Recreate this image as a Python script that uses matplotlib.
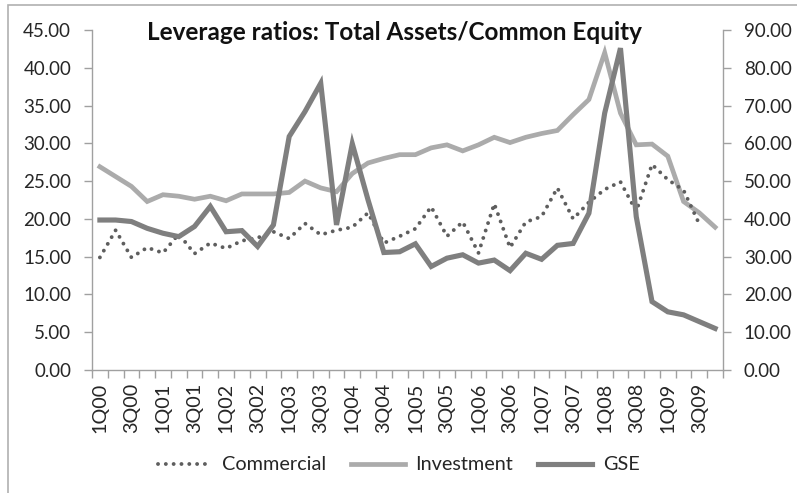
import numpy as np
import matplotlib
matplotlib.use("Agg")
import matplotlib.pyplot as plt
from matplotlib.patches import Rectangle

plt.rcParams['font.family'] = ['Lato', 'DejaVu Sans']

years = ["00", "01", "02", "03", "04", "05", "06", "07", "08", "09"]
quarters = [f"{q}Q{y}" for y in years for q in (1, 2, 3, 4)]

commercial = [14.9, 18.5, 14.9, 16.2, 15.5, 18.0, 15.4, 16.8, 16.1, 17.1,
              17.5, 18.3, 17.4, 19.4, 17.9, 18.5, 18.9, 20.8, 16.8, 17.7,
              18.7, 21.6, 17.7, 19.6, 15.5, 22.0, 16.2, 19.6, 20.3, 24.1,
              20.0, 22.2, 23.9, 24.9, 21.0, 27.2, 25.2, 23.8, 19.3, np.nan]
investment = [26.9, 25.6, 24.3, 22.3, 23.2, 23.0, 22.6, 23.0, 22.4, 23.3,
              23.3, 23.3, 23.5, 25.0, 24.1, 23.6, 26.0, 27.4, 28.0, 28.5,
              28.5, 29.4, 29.8, 29.0, 29.8, 30.8, 30.1, 30.8, 31.3, 31.7,
              33.8, 35.8, 42.0, 34.0, 29.8, 29.9, 28.3, 22.3, 20.8, 18.9]
gse = [39.7, 39.7, 39.3, 37.5, 36.2, 35.3, 38.0, 43.3, 36.6, 36.9,
       32.7, 38.4, 61.8, 68.4, 75.9, 38.4, 59.9, 45.0, 31.1, 31.3,
       33.4, 27.4, 29.6, 30.5, 28.3, 29.1, 26.3, 30.9, 29.3, 33.0,
       33.5, 41.5, 68.0, 85.2, 40.6, 18.1, 15.4, 14.6, 12.8, 11.0]

left_ticks = np.arange(0, 46, 5)
right_ticks = np.arange(0, 91, 10)

W, H = 797, 493
fig = plt.figure(figsize=(W / 100, H / 100), dpi=100)

# outer chart frame
fig.patches.append(Rectangle((8 / W, -0.05), 1.2, 1 - 5 / H + 0.05,
                             transform=fig.transFigure, fill=False,
                             edgecolor='#b0b0b0', linewidth=1.2))

ax = fig.add_axes([92 / W, 1 - 370 / H, (723 - 92) / W, (370 - 30) / H])
ax2 = ax.twinx()

x = np.arange(len(quarters))
axis_col = '#a0a0a0'
txt_col = '#262626'

ax.plot(x, investment, color='#ababab', lw=3.4, solid_joinstyle='miter', label='Investment', zorder=2)
ax.plot(x, commercial, color='#5e5e5e', lw=2.8, linestyle=(0, (0.01, 2.0)),
        dash_capstyle='round', label='Commercial', zorder=3)
ax2.plot(x, gse, color='#7f7f7f', lw=3.7, solid_joinstyle='miter', label='GSE', zorder=2)

ax.set_xlim(-0.5, len(quarters) - 0.5)
ax.set_ylim(0, 45)
ax2.set_ylim(0, 90)

ax.set_yticks(left_ticks)
ax.set_yticklabels([f"{v:.2f}" for v in left_ticks])
ax2.set_yticks(right_ticks)
ax2.set_yticklabels([f"{v:.2f}" for v in right_ticks])

ax.set_xticks(x[::2])
ax.set_xticklabels(quarters[::2], rotation=90)
ax.set_xticks(np.arange(-0.5, len(quarters), 1), minor=True)
ax.tick_params(axis='x', which='major', length=0, pad=9, labelsize=14.2, labelcolor=txt_col)
ax.tick_params(axis='x', which='minor', length=6, color=axis_col, width=1)
ax.tick_params(axis='y', length=6, color=axis_col, width=1, labelsize=13.5, labelcolor=txt_col, pad=9)
ax2.tick_params(axis='y', length=6, color=axis_col, width=1, labelsize=13.5, labelcolor=txt_col, pad=9)

for a in (ax, ax2):
    a.spines['top'].set_visible(False)
    for s in ('left', 'right', 'bottom'):
        a.spines[s].set_color(axis_col)
        a.spines[s].set_linewidth(1)
ax.spines['right'].set_visible(False)
ax2.spines['left'].set_visible(False)
ax2.spines['bottom'].set_visible(False)

fig.text(394 / W, 1 - 33 / H, "Leverage ratios: Total Assets/Common Equity",
         ha='center', va='center', fontsize=17.5, fontweight='bold', color='#111111')

h1, l1 = ax.get_legend_handles_labels()
h2, l2 = ax2.get_legend_handles_labels()
handles = [h1[1], h1[0], h2[0]]
labels = [l1[1], l1[0], l2[0]]
fig.legend(handles, labels, loc='center', bbox_to_anchor=(0.5, 1 - 465 / H), ncol=3,
           frameon=False, fontsize=14.3, handlelength=2.7, columnspacing=1.25,
           handletextpad=0.55, labelcolor=txt_col)

fig.savefig("out.png", dpi=100)
